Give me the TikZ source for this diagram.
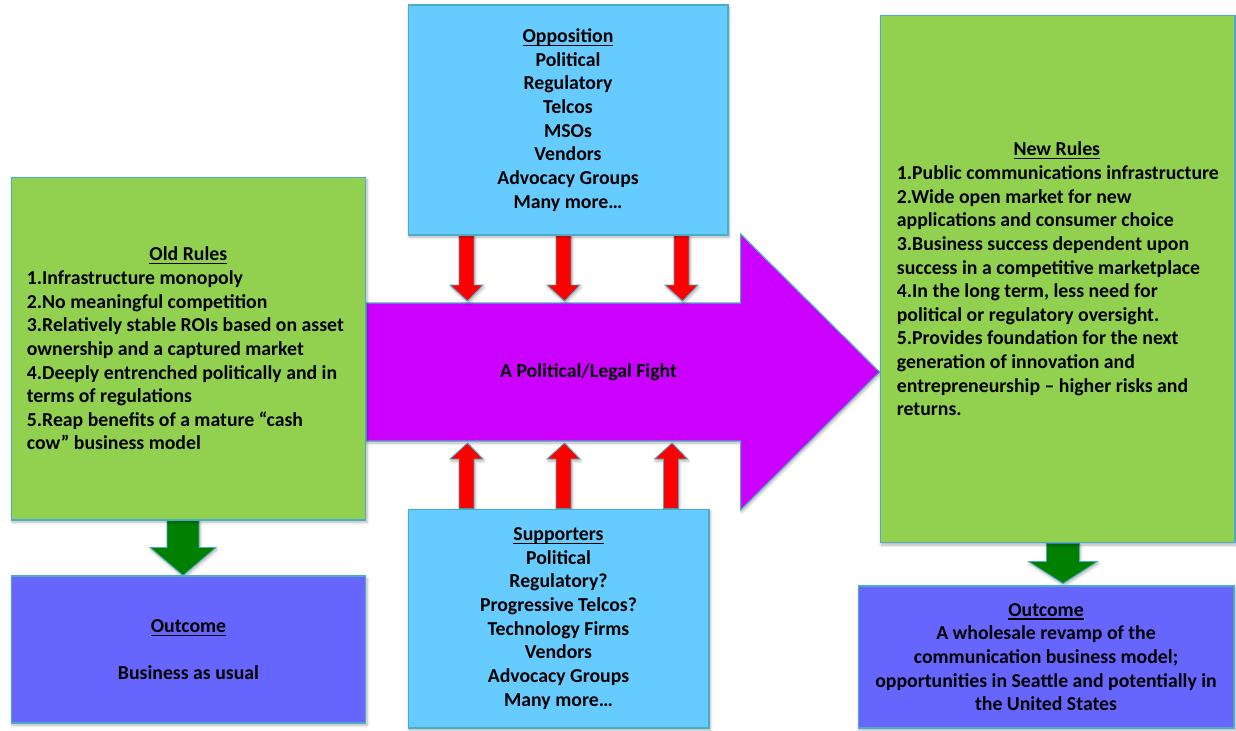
\documentclass[tikz,border=0pt]{standalone}
\usepackage{fontspec}
\setmainfont{Carlito}
\usetikzlibrary{calc,shadows.blur}

\definecolor{boxgreen}{HTML}{92D050}
\definecolor{boxblue}{HTML}{66CCFF}
\definecolor{boxviolet}{HTML}{6666FF}
\definecolor{fightpurple}{HTML}{CC00FF}
\definecolor{edgeteal}{HTML}{4BACC6}
\definecolor{pushred}{HTML}{FF0000}
\definecolor{leadgreen}{HTML}{008000}

% one drawing unit in points
\newcommand\upx{0.56906pt}

% underlined heading, the rule sitting just under the baseline
\newcommand\headline[1]{\leavevmode\setbox0\hbox{#1}%
  \rlap{\rule[-2.1pt]{\wd0}{0.75pt}}\box0}

% straight block arrow: #1 style, #2 base, #3 tip,
% #4 half shaft width, #5 half head width, #6 head length (drawing units)
\newcommand\blockarrow[6]{%
  \path[#1] let \p1=(#2), \p2=(#3), \p3=($(#3)!#6*\upx!(#2)$) in
    ({\x1-#4*\upx},\y1) -- ({\x1-#4*\upx},\y3) -- ({\x1-#5*\upx},\y3) --
    (\x2,\y2) --
    ({\x1+#5*\upx},\y3) -- ({\x1+#4*\upx},\y3) -- ({\x1+#4*\upx},\y1) -- cycle;}

\pgfdeclarelayer{back}
\pgfsetlayers{back,main}

\begin{document}
\begin{tikzpicture}[x=0.02cm,y=-0.02cm,
  softshadow/.style={blur shadow={shadow xshift=0.6pt, shadow yshift=-1.2pt,
      shadow blur radius=1.6pt, shadow blur steps=6, shadow opacity=30}},
  panel/.style={draw=edgeteal, line width=0.6pt, inner sep=0pt, softshadow},
  txt/.style={font=\fontsize{11.25}{13.46}\selectfont\bfseries, text=black},
  listtext/.style={txt, align=left, anchor=west, inner sep=0pt},
  centretext/.style={txt, align=center},
  redpush/.style={fill=pushred, draw=edgeteal, line width=0.5pt, softshadow},
  greenlead/.style={fill=leadgreen, draw=edgeteal, line width=0.5pt, softshadow},
  fightshape/.style={fill=fightpurple, draw=edgeteal, line width=0.6pt, softshadow}]

\useasboundingbox (0,0) rectangle (1236,730);

% ---- panels ----
\node[panel, fill=boxgreen, minimum width=7.10cm, minimum height=6.86cm]
  (oldrules) at (188.5,348.5) {};
\node[panel, fill=boxviolet, minimum width=7.10cm, minimum height=2.94cm,
  centretext] (outold) at (188.5,649.5)
  {\headline{Outcome}\\~\\Business as usual};

\node[panel, fill=boxblue, minimum width=6.40cm, minimum height=4.60cm,
  centretext] (opp) at (568,120)
  {\headline{Opposition}\\Political\\Regulatory\\Telcos\\MSOs\\Vendors\\
   Advocacy Groups\\Many more…};

\node[panel, fill=boxblue, minimum width=6.02cm, minimum height=4.38cm,
  centretext] (sup) at (558.5,618.5)
  {\headline{Supporters}\\Political\\Regulatory?\\Progressive Telcos?\\
   Technology Firms\\Vendors\\Advocacy Groups\\Many more…};

\node[panel, fill=boxgreen, minimum width=7.10cm, minimum height=10.56cm]
  (newrules) at (1057.5,279) {};
\node[panel, fill=boxviolet, minimum width=7.52cm, minimum height=2.84cm,
  centretext] (outnew) at (1046,657)
  {\headline{Outcome}\\A wholesale revamp of the\\communication business model;\\
   opportunities in Seattle and potentially in\\the United States};

% ---- panel texts ----
\node[listtext] (oldtext) at ($(oldrules.west)+(16,0)$)
  {\makebox[6.46cm]{\headline{Old Rules}}\\
   1.Infrastructure monopoly\\
   2.No meaningful competition\\
   3.Relatively stable ROIs based on asset\\
   ownership and a captured market\\
   4.Deeply entrenched politically and in\\
   terms of regulations\\
   5.Reap benefits of a mature “cash\\
   cow” business model};

\node[listtext] (newtext) at ($(newrules.west)+(17,0)$)
  {\makebox[6.40cm]{\headline{New Rules}}\\
   1.Public communications infrastructure\\
   2.Wide open market for new\\
   applications and consumer choice\\
   3.Business success dependent upon\\
   success in a competitive marketplace\\
   4.In the long term, less need for\\
   political or regulatory oversight.\\
   5.Provides foundation for the next\\
   generation of innovation and\\
   entrepreneurship – higher risks and\\
   returns.};

% ---- the big arrow from the old rules to the new rules ----
\coordinate (tail) at ($(oldrules.east)+(0,23.5)$);
\coordinate (tip) at ($(newrules.west)+(0,93)$);
\node[txt] (fight) at ($(tail)+(222,0)$) {A Political/Legal Fight};

\begin{pgfonlayer}{back}
  \path[fightshape] let \p1=(tail), \p2=(tip) in
    (\x1,{\y1+69*\upx}) -- ({\x2-139*\upx},{\y1+69*\upx}) --
    ({\x2-139*\upx},{\y1+138*\upx}) -- (\x2,\y2) --
    ({\x2-139*\upx},{\y1-138*\upx}) -- ({\x2-139*\upx},{\y1-69*\upx}) --
    (\x1,{\y1-69*\upx}) -- cycle;

  % opposition pressing down
  \blockarrow{redpush}{$(opp.south west)+(59,0)$}{$(tail)+(101,-71)$}{7.5}{16.5}{16}
  \blockarrow{redpush}{$(opp.south west)+(156,0)$}{$(tail)+(198,-71)$}{7.5}{16.5}{16}
  \blockarrow{redpush}{$(opp.south west)+(274,0)$}{$(tail)+(316,-71)$}{7.5}{16.5}{16}

  % supporters pushing up
  \blockarrow{redpush}{$(sup.north west)+(59,0)$}{$(tail)+(101,71)$}{7.5}{16.5}{16}
  \blockarrow{redpush}{$(sup.north west)+(156,0)$}{$(tail)+(198,71)$}{7.5}{16.5}{16}
  \blockarrow{redpush}{$(sup.north west)+(263.5,0)$}{$(tail)+(305.5,71)$}{7.5}{16.5}{16}

  % rules lead to outcomes
  \blockarrow{greenlead}{$(oldrules.south)+(-5.5,0)$}{$(outold.north)+(-5.5,0)$}{16}{33}{28}
  \blockarrow{greenlead}{$(newrules.south)+(5.5,0)$}{$(outnew.north)+(17,-2)$}{16.5}{34.5}{22}
\end{pgfonlayer}

\end{tikzpicture}
\end{document}
